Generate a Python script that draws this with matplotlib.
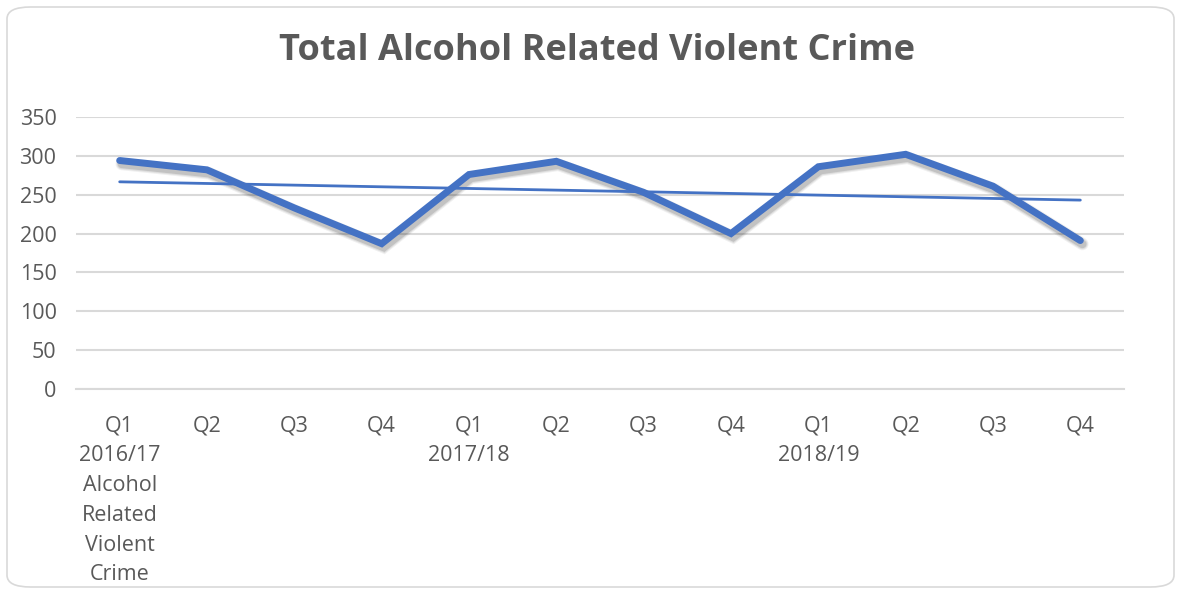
import numpy as np
import matplotlib.pyplot as plt
import matplotlib.patheffects as pe
from matplotlib.patches import FancyBboxPatch

# Data
quarters = ['Q1\n2016/17\nAlcohol\nRelated\nViolent\nCrime', 'Q2', 'Q3', 'Q4',
            'Q1\n2017/18', 'Q2', 'Q3', 'Q4',
            'Q1\n2018/19', 'Q2', 'Q3', 'Q4']
crimes = [294, 282, 233, 187, 276, 293, 253, 200, 286, 302, 261, 191]
yticks = [0, 50, 100, 150, 200, 250, 300, 350]

blue = '#4472C4'
text_grey = '#595959'
plt.rcParams['font.family'] = ['Open Sans', 'DejaVu Sans']

fig = plt.figure(figsize=(11.81, 5.90), dpi=100)
ax = fig.add_axes([76 / 1181, 1 - 389 / 590, (1124 - 76) / 1181, (389 - 117) / 590])

x = np.arange(len(crimes))

# Main series with a soft (layered) shadow
shadow = [pe.SimpleLineShadow(offset=(1.5, -2.5), shadow_color='black', alpha=a, rho=1, linewidth=w)
          for a, w in [(0.06, 9), (0.08, 7.5), (0.12, 6)]]
ax.plot(x, crimes, color=blue, lw=5, solid_joinstyle='miter', solid_capstyle='round', zorder=3,
        path_effects=shadow + [pe.Normal()])

# Linear trendline
slope, intercept = np.polyfit(x, crimes, 1)
ax.plot(x, slope * x + intercept, color=blue, lw=2, solid_capstyle='round', zorder=4)

ax.set_xlim(-0.5, len(crimes) - 0.5)
ax.set_ylim(0, 350)
ax.set_yticks(yticks)
ax.set_xticks(x)
ax.set_xticklabels(quarters, linespacing=1.55)
ax.tick_params(axis='x', length=0, pad=19, labelsize=15.5, labelcolor=text_grey)
ax.tick_params(axis='y', length=0, pad=14, labelsize=15.5, labelcolor=text_grey)

ax.grid(axis='y', color='#D9D9D9', lw=1.5)
ax.set_axisbelow(True)
for side in ['top', 'right', 'left']:
    ax.spines[side].set_visible(False)
ax.spines['bottom'].set_color('#D9D9D9')
ax.spines['bottom'].set_linewidth(1.5)

fig.text(597 / 1181, 1 - 51 / 590, 'Total Alcohol Related Violent Crime', ha='center', va='center',
         fontsize=26, fontweight='bold', color=text_grey)

# Rounded chart border
border = FancyBboxPatch((7 / 1181, 3 / 590), 1167 / 1181, 580 / 590,
                        boxstyle='round,pad=0,rounding_size=0.02', transform=fig.transFigure,
                        fill=False, edgecolor='#D9D9D9', lw=1.2)
fig.patches.append(border)

fig.savefig('out.png', dpi=100)
